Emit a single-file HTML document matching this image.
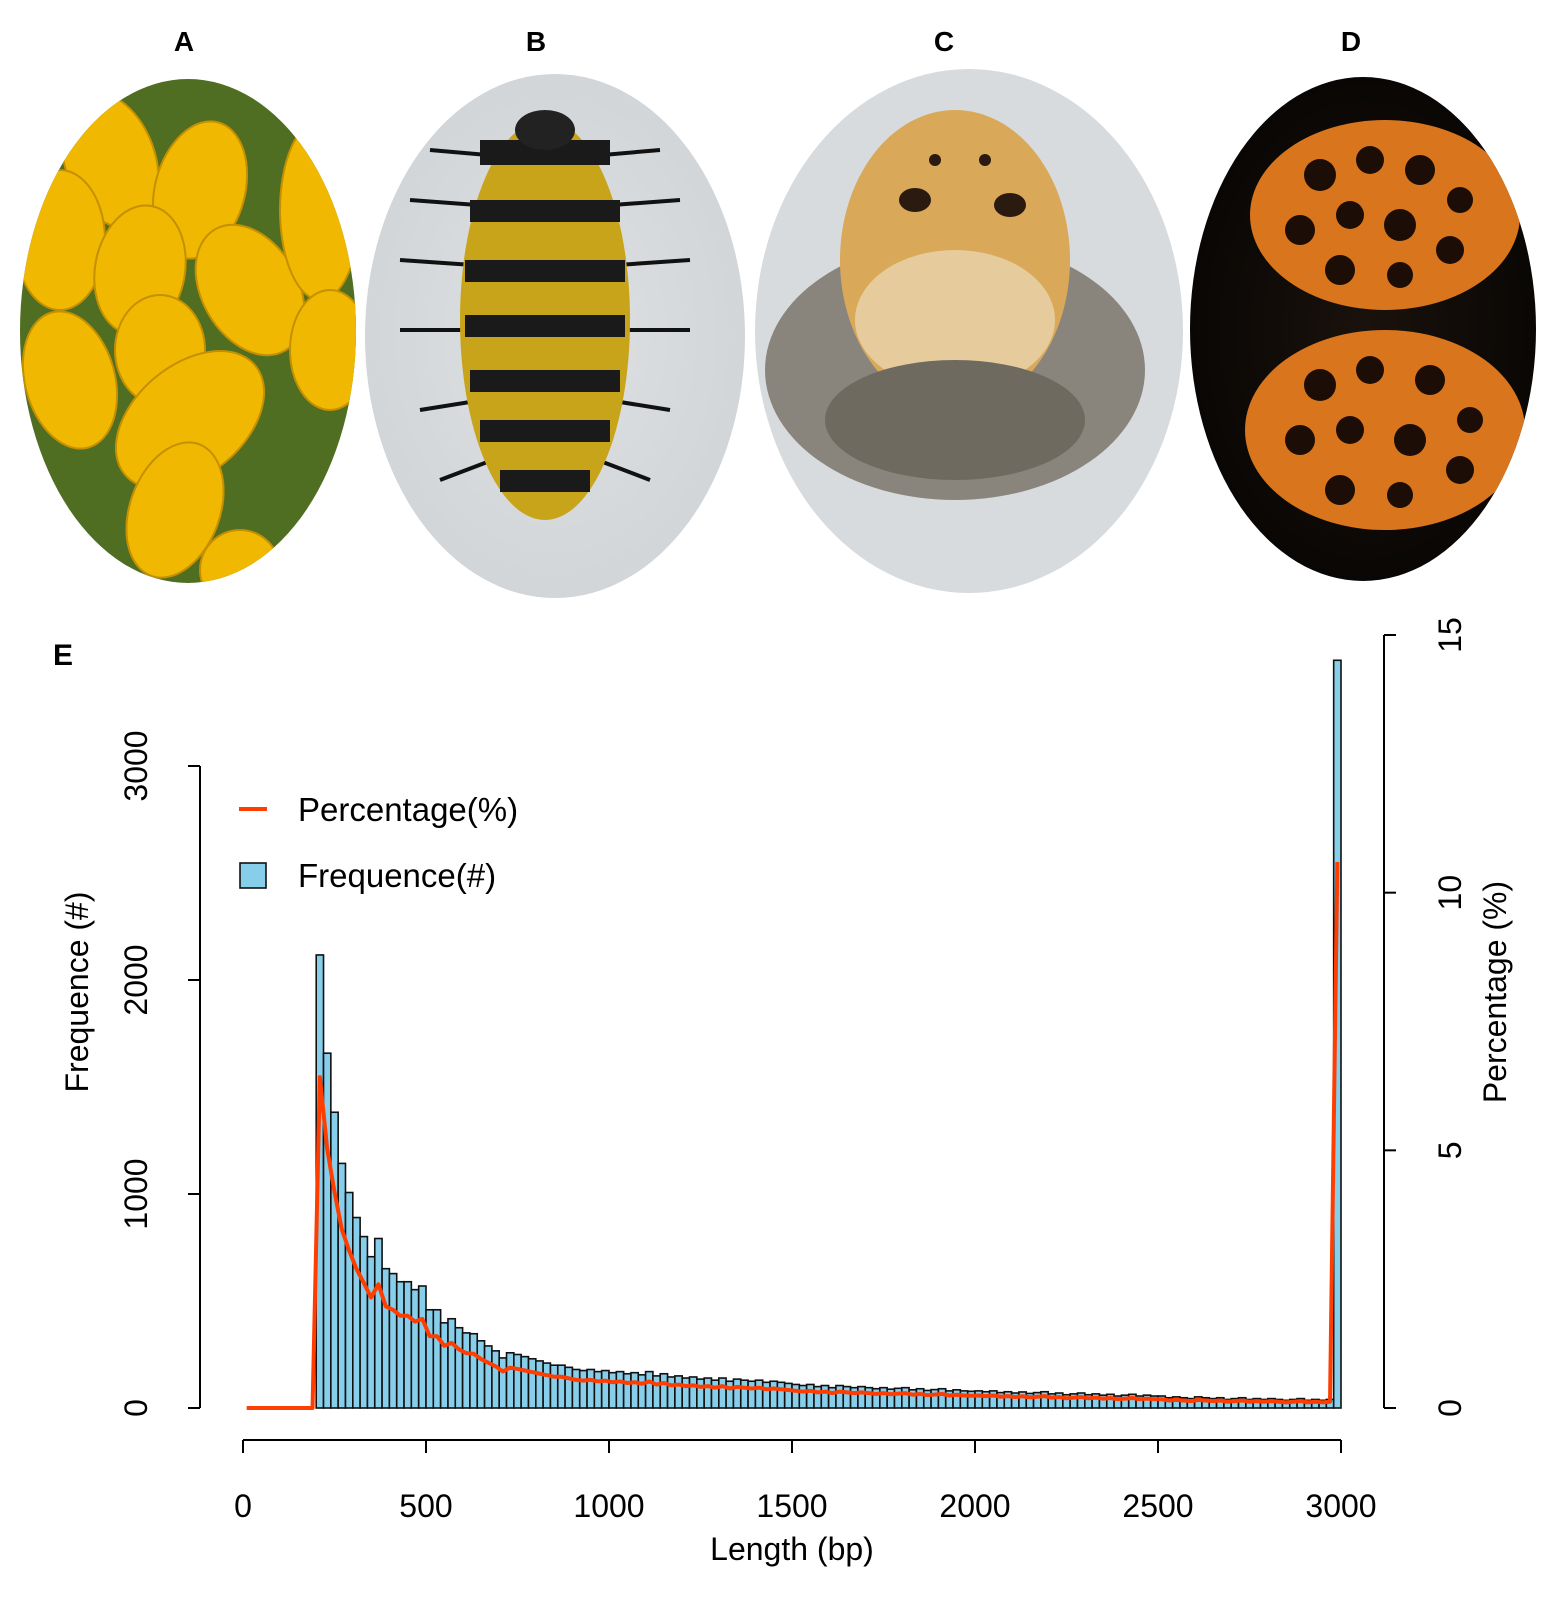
<!DOCTYPE html>
<html><head><meta charset="utf-8"><style>
body{margin:0;background:#fff;width:1551px;height:1595px;overflow:hidden;font-family:"Liberation Sans",sans-serif}
</style></head><body>
<svg id="fig" width="1551" height="1595" viewBox="0 0 1551 1595" xmlns="http://www.w3.org/2000/svg" font-family="Liberation Sans, sans-serif">
<defs>
<radialGradient id="gA" cx="50%" cy="50%" r="60%"><stop offset="0" stop-color="#e6b800"/><stop offset="0.7" stop-color="#c89a00"/><stop offset="1" stop-color="#5f7a2a"/></radialGradient>
<radialGradient id="gB" cx="50%" cy="50%" r="60%"><stop offset="0" stop-color="#dfe1e3"/><stop offset="1" stop-color="#cfd3d6"/></radialGradient>
<radialGradient id="gD" cx="50%" cy="50%" r="60%"><stop offset="0" stop-color="#1a120c"/><stop offset="1" stop-color="#050403"/></radialGradient>
<clipPath id="cA"><ellipse cx="188" cy="331" rx="168" ry="252"/></clipPath>
<clipPath id="cB"><ellipse cx="555" cy="336" rx="190" ry="262"/></clipPath>
<clipPath id="cC"><ellipse cx="969" cy="331" rx="214" ry="262"/></clipPath>
<clipPath id="cD"><ellipse cx="1363" cy="329" rx="173" ry="252"/></clipPath>
</defs>
<g font-weight="bold" font-size="28" text-anchor="middle">
<text x="184" y="51">A</text>
<text x="536" y="51">B</text>
<text x="944" y="51">C</text>
<text x="1351" y="51">D</text>
</g>
<g clip-path="url(#cA)">
<rect x="0" y="60" width="370" height="540" fill="#4f6e22"/>
<g fill="#f0b800" stroke="#c48f00" stroke-width="2">
<ellipse cx="110" cy="160" rx="45" ry="70" transform="rotate(-20 110 160)"/>
<ellipse cx="200" cy="190" rx="45" ry="70" transform="rotate(15 200 190)"/>
<ellipse cx="60" cy="240" rx="45" ry="70"/>
<ellipse cx="140" cy="270" rx="45" ry="65" transform="rotate(10 140 270)"/>
<ellipse cx="250" cy="290" rx="48" ry="70" transform="rotate(-30 250 290)"/>
<ellipse cx="320" cy="210" rx="40" ry="90"/>
<ellipse cx="330" cy="350" rx="40" ry="60"/>
<ellipse cx="70" cy="380" rx="45" ry="70" transform="rotate(-15 70 380)"/>
<ellipse cx="160" cy="350" rx="45" ry="55"/>
<ellipse cx="190" cy="420" rx="55" ry="85" transform="rotate(50 190 420)"/>
<ellipse cx="175" cy="510" rx="45" ry="70" transform="rotate(20 175 510)"/>
<ellipse cx="240" cy="570" rx="40" ry="40"/>
</g></g>
<g clip-path="url(#cB)">
<rect x="360" y="70" width="390" height="530" fill="url(#gB)"/>
<g stroke="#111" stroke-width="4">
<line x1="545" y1="160" x2="430" y2="150"/><line x1="545" y1="160" x2="660" y2="150"/>
<line x1="545" y1="210" x2="410" y2="200"/><line x1="545" y1="210" x2="680" y2="200"/>
<line x1="545" y1="270" x2="400" y2="260"/><line x1="545" y1="270" x2="690" y2="260"/>
<line x1="545" y1="330" x2="400" y2="330"/><line x1="545" y1="330" x2="690" y2="330"/>
<line x1="545" y1="390" x2="420" y2="410"/><line x1="545" y1="390" x2="670" y2="410"/>
<line x1="545" y1="440" x2="440" y2="480"/><line x1="545" y1="440" x2="650" y2="480"/>
</g>
<ellipse cx="545" cy="320" rx="85" ry="200" fill="#c8a41a"/>
<g fill="#1a1a1a"><rect x="480" y="140" width="130" height="25"/><rect x="470" y="200" width="150" height="22"/><rect x="465" y="260" width="160" height="22"/><rect x="465" y="315" width="160" height="22"/><rect x="470" y="370" width="150" height="22"/><rect x="480" y="420" width="130" height="22"/><rect x="500" y="470" width="90" height="22"/></g>
<ellipse cx="545" cy="130" rx="30" ry="20" fill="#222"/>
</g>
<g clip-path="url(#cC)">
<rect x="750" y="65" width="440" height="540" fill="#d8dbde"/>
<ellipse cx="955" cy="370" rx="190" ry="130" fill="#8a857c"/>
<ellipse cx="955" cy="260" rx="115" ry="150" fill="#d9a858"/>
<ellipse cx="955" cy="320" rx="100" ry="70" fill="#e6cc9c"/>
<g fill="#2a1a10"><circle cx="935" cy="160" r="6"/><circle cx="985" cy="160" r="6"/><ellipse cx="915" cy="200" rx="16" ry="12"/><ellipse cx="1010" cy="205" rx="16" ry="12"/></g>
<ellipse cx="955" cy="420" rx="130" ry="60" fill="#6f6a60"/>
</g>
<g clip-path="url(#cD)">
<rect x="1185" y="70" width="360" height="520" fill="url(#gD)"/>
<ellipse cx="1385" cy="215" rx="135" ry="95" fill="#d9751c"/>
<ellipse cx="1385" cy="430" rx="140" ry="100" fill="#d9751c"/>
<g fill="#1c0e06">
<circle cx="1320" cy="175" r="16"/><circle cx="1370" cy="160" r="14"/><circle cx="1420" cy="170" r="15"/><circle cx="1460" cy="200" r="13"/><circle cx="1300" cy="230" r="15"/><circle cx="1350" cy="215" r="14"/><circle cx="1400" cy="225" r="16"/><circle cx="1450" cy="250" r="14"/><circle cx="1340" cy="270" r="15"/><circle cx="1400" cy="275" r="13"/>
<circle cx="1320" cy="385" r="16"/><circle cx="1370" cy="370" r="14"/><circle cx="1430" cy="380" r="15"/><circle cx="1470" cy="420" r="13"/><circle cx="1300" cy="440" r="15"/><circle cx="1350" cy="430" r="14"/><circle cx="1410" cy="440" r="16"/><circle cx="1460" cy="470" r="14"/><circle cx="1340" cy="490" r="15"/><circle cx="1400" cy="495" r="13"/>
</g>
</g>
<text x="63" y="665" font-size="30" font-weight="bold" text-anchor="middle">E</text>
<g id="chart"></g>
</svg>
<script>
const binStarts=[];for(let b=200;b<3000;b+=20)binStarts.push(b);
const counts=[2117,1658,1382,1143,1007,890,801,707,792,651,628,590,590,553,570,459,459,398,417,375,351,347,314,290,267,234,258,250,240,230,220,210,200,200,
190,180,175,180,170,175,
165,170,160,165,155,170,150,160,145,150,140,145,135,140,130,140,125,135,130,125,130,120,125,120,115,
110,105,110,100,105,95,105,100,95,100,95,90,95,88,92,95,85,90,82,86,90,80,85,80,78,
80,76,80,72,76,70,75,68,72,76,66,70,62,66,70,62,66,60,64,56,60,64,56,60,56,
56,48,52,48,44,52,48,44,48,40,44,48,40,44,40,44,40,36,40,44,36,40,36,40,
3494];
const leftTicks=[0,1000,2000,3000];
const rightTicks=[0,5,10,15];
const xTicks=[0,500,1000,1500,2000,2500,3000];
const total=counts.reduce((a,b)=>a+b,0);
const pct=counts.map(c=>c/total*100);

const NS='http://www.w3.org/2000/svg';
const g=document.getElementById('chart');
const X=v=>243+v*(1341-243)/3000;
const YL=v=>1408-v*(1408-766)/3000;
const YR=v=>1408-v*(1408-635)/15;
function mk(t,a){const e=document.createElementNS(NS,t);for(const k in a)e.setAttribute(k,a[k]);g.appendChild(e);return e;}
// bars
counts.forEach((c,i)=>{
 const x0=X(binStarts[i]),x1=X(binStarts[i]+20);
 const r=mk('rect',{x:x0,y:YL(c),width:x1-x0,height:YL(0)-YL(c),fill:'#87CEEB',stroke:'#111','stroke-width':1.6});
 
 
});
// line
let pts=[];
for(let b=0;b<200;b+=20)pts.push(X(b+10)+','+YR(0));
pct.forEach((p,i)=>pts.push(X(binStarts[i]+10)+','+YR(p)));
const ln=mk('polyline',{points:pts.join(' '),fill:'none',stroke:'#FF3D00','stroke-width':4,'stroke-linejoin':'round'});


// left axis
const la=mk('line',{x1:200,y1:YL(0),x2:200,y2:YL(3000),stroke:'#000','stroke-width':2});


leftTicks.forEach(v=>{
 const t=mk('line',{x1:188,x2:200,y1:YL(v),y2:YL(v),stroke:'#000','stroke-width':2});
 
 
 const tx=mk('text',{x:0,y:0,transform:`translate(147,${YL(v)}) rotate(-90)`,'text-anchor':'middle','font-size':32});
 tx.textContent=v;
 
 
});
// right axis
const ra=mk('line',{x1:1384,y1:YR(0),x2:1384,y2:YR(15),stroke:'#000','stroke-width':2});


rightTicks.forEach(v=>{
 const t=mk('line',{x1:1384,x2:1396,y1:YR(v),y2:YR(v),stroke:'#000','stroke-width':2});
 
 
 const tx=mk('text',{x:0,y:0,transform:`translate(1461,${YR(v)}) rotate(-90)`,'text-anchor':'middle','font-size':32});
 tx.textContent=v;
 
 
});
// x axis
const xa=mk('line',{x1:X(0),y1:1440,x2:X(3000),y2:1440,stroke:'#000','stroke-width':2});


xTicks.forEach(v=>{
 const t=mk('line',{x1:X(v),x2:X(v),y1:1440,y2:1453,stroke:'#000','stroke-width':2});
 
 
 const tx=mk('text',{x:X(v),y:1517,'text-anchor':'middle','font-size':32});
 tx.textContent=v;
 
 
});
const xt=mk('text',{x:X(1500),y:1560,'text-anchor':'middle','font-size':32});
xt.textContent='Length (bp)';


const yt=mk('text',{x:0,y:0,transform:'translate(88,992) rotate(-90)','text-anchor':'middle','font-size':32});
yt.textContent='Frequence (#)';


const rt=mk('text',{x:0,y:0,transform:'translate(1506,992) rotate(-90)','text-anchor':'middle','font-size':32});
rt.textContent='Percentage (%)';


// legend
const l1=mk('line',{x1:239,x2:267,y1:809,y2:809,stroke:'#FF3D00','stroke-width':4});


const lt1=mk('text',{x:298,y:821,'font-size':33});
lt1.textContent='Percentage(%)';


const l2=mk('rect',{x:240,y:863,width:26,height:25,fill:'#87CEEB',stroke:'#111','stroke-width':1.6});


const lt2=mk('text',{x:298,y:887,'font-size':33});
lt2.textContent='Frequence(#)';


</script>
</body></html>
